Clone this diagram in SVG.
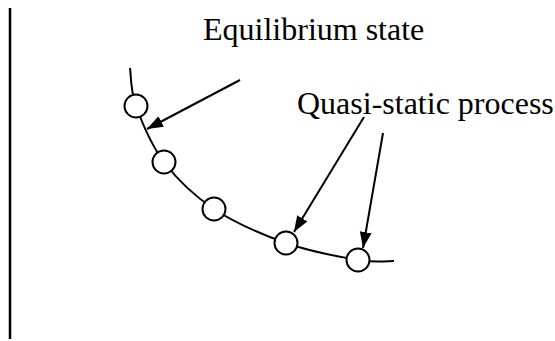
<svg xmlns="http://www.w3.org/2000/svg" width="555" height="341" viewBox="0 0 555 341">
<style>
.ln{fill:none;stroke:#000;stroke-width:2}
.st{fill:#fff;stroke:#000;stroke-width:2}
.lb{font-family:"Liberation Serif","Times New Roman",serif;font-size:32px;fill:#000}
</style>
<defs>
<marker id="ah" markerUnits="userSpaceOnUse" markerWidth="17" markerHeight="13" refX="16" refY="6" orient="auto" viewBox="0 0 17 13">
<path d="M0,0 L16,6 L0,12 z" fill="#000"/>
</marker>
</defs>
<rect width="555" height="341" fill="#fff"/>
<line x1="10" y1="8" x2="10" y2="339" stroke="#000" stroke-width="2.5"/>
<g id="curve">
<path class="ln" d="M130,68 C131,74 130.3,90 136,106 C141.7,121.7 151,144.8 164,162 C177,179.2 193.7,195.5 214,209 C234.3,222.5 262,234.5 286,243 C310,251.5 340,257 358,260 C376,263 388,261 394,261"/>
</g>
<g id="state1"><circle class="st" cx="136" cy="106" r="11.5"/></g>
<g id="state2"><circle class="st" cx="164" cy="162" r="11.5"/></g>
<g id="state3"><circle class="st" cx="214" cy="209" r="11.5"/></g>
<g id="state4"><circle class="st" cx="286" cy="243" r="11.5"/></g>
<g id="state5"><circle class="st" cx="358" cy="260" r="11.5"/></g>
<g id="label-equilibrium"><text class="lb" x="203" y="40">Equilibrium state</text></g>
<g id="label-quasi"><text class="lb" x="297" y="114">Quasi-static process</text></g>
<g id="connectors">
<line class="ln" x1="240" y1="80" x2="147" y2="129" marker-end="url(#ah)"/>
<line class="ln" x1="364" y1="117" x2="294" y2="232" marker-end="url(#ah)"/>
<line class="ln" x1="383" y1="133" x2="363" y2="248" marker-end="url(#ah)"/>
</g>
</svg>
